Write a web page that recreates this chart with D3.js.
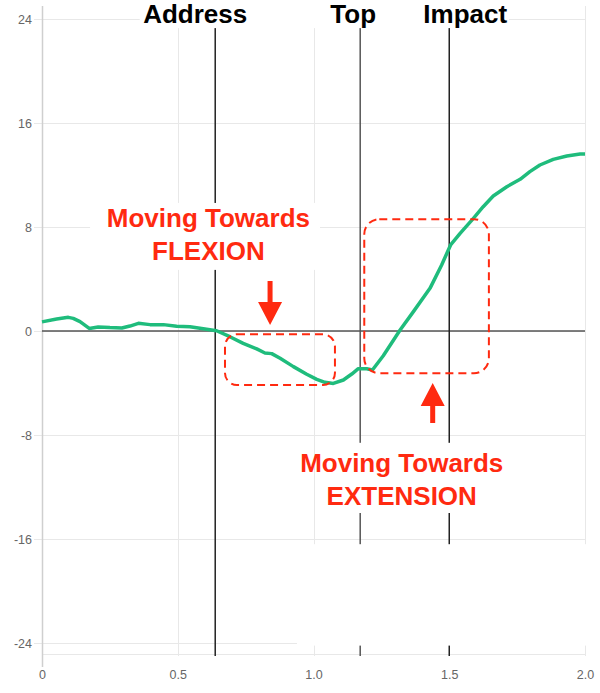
<!DOCTYPE html>
<html>
<head>
<meta charset="utf-8">
<script src="https://cdn.jsdelivr.net/npm/d3@7"></script>
<style>
  body { margin: 0; background: #fff; }
  svg { display: block; font-family: "Liberation Sans", Arial, Helvetica, sans-serif; }
</style>
</head>
<body>
<div id="chart"></div>
<script>
//time (seconds) of each sample
var times = [0, 0.054, 0.097, 0.115, 0.14, 0.174, 0.207, 0.25, 0.294, 0.324, 0.355, 0.398,
  0.447, 0.496, 0.545, 0.594, 0.643, 0.692, 0.741, 0.791, 0.821, 0.846, 0.877, 0.926,
  0.975, 1.012, 1.042, 1.073, 1.11, 1.141, 1.165, 1.196, 1.217, 1.257, 1.319, 1.368,
  1.429, 1.472, 1.505, 1.54, 1.589, 1.625, 1.662, 1.712, 1.761, 1.797, 1.834, 1.883,
  1.933, 1.982, 2.0];

//wrist angle (degrees) of each sample
var angles = [0.7, 0.92, 1.05, 0.97, 0.72, 0.2, 0.31, 0.26, 0.23, 0.38, 0.59, 0.49,
  0.49, 0.36, 0.33, 0.18, 0.02, -0.44, -0.95, -1.38, -1.69, -1.74, -2.1, -2.74,
  -3.33, -3.72, -3.95, -4.03, -3.77, -3.31, -2.9, -2.9, -3.0, -1.9, 0.08, 1.49,
  3.28, 5.08, 6.62, 7.51, 8.67, 9.56, 10.38, 11.1, 11.67, 12.26, 12.77, 13.2,
  13.46, 13.62, 13.62];

//swing events
var eventNames = ["Address", "Top", "Impact"];
var eventTimes = [0.638, 1.172, 1.5];

//tick labels
var xTicks = [0, 0.5, 1.0, 1.5, 2.0];
var xTickLabels = ["0", "0.5", "1.0", "1.5", "2.0"];
var yTicks = [-24, -16, -8, 0, 8, 16, 24];
var yTickLabels = ["-24", "-16", "-8", "0", "8", "16", "24"];

//annotation texts
var flexionText = ["Moving Towards", "FLEXION"];
var extensionText = ["Moving Towards", "EXTENSION"];

function init() {
  var w = 600;
  var h = 693;
  var left = 42;
  var right = 585;
  var top = 6;
  var bottom = 656;
  var red = "#ff2a10";

  var svg = d3
    .select("#chart")
    .append("svg")
    .attr("width", w)
    .attr("height", h);

  var xScale = d3.scaleLinear().domain([0, 2]).range([left, right]);
  var yScale = d3.scaleLinear().domain([-25, 25]).range([bottom, top]);

  //horizontal grid lines
  svg
    .append("g")
    .selectAll("line")
    .data(yTicks)
    .enter()
    .append("line")
    .attr("x1", left - 8)
    .attr("x2", right)
    .attr("y1", function (d) { return yScale(d) + 0.5; })
    .attr("y2", function (d) { return yScale(d) + 0.5; })
    .style("stroke", "#e8e8e8")
    .style("stroke-width", 1);

  //bottom border
  svg
    .append("line")
    .attr("x1", left)
    .attr("x2", right)
    .attr("y1", bottom - 1.5)
    .attr("y2", bottom - 1.5)
    .style("stroke", "#e8e8e8");

  //vertical grid lines
  svg
    .append("g")
    .selectAll("line")
    .data(xTicks.slice(1))
    .enter()
    .append("line")
    .attr("x1", function (d) { return Math.round(xScale(d)) + 0.5; })
    .attr("x2", function (d) { return Math.round(xScale(d)) + 0.5; })
    .attr("y1", top)
    .attr("y2", bottom)
    .style("stroke", "#e8e8e8");

  //left axis line
  svg
    .append("line")
    .attr("x1", left + 0.5)
    .attr("x2", left + 0.5)
    .attr("y1", top)
    .attr("y2", bottom + 11)
    .style("stroke", "#cfcfcf")
    .style("stroke-width", 1.5);

  //zero line
  svg
    .append("line")
    .attr("x1", left)
    .attr("x2", right)
    .attr("y1", yScale(0))
    .attr("y2", yScale(0))
    .style("stroke", "#555")
    .style("stroke-width", 1.5);

  //swing event lines
  svg
    .append("g")
    .selectAll("line")
    .data(eventTimes)
    .enter()
    .append("line")
    .attr("x1", function (d) { return xScale(d); })
    .attr("x2", function (d) { return xScale(d); })
    .attr("y1", 28)
    .attr("y2", bottom)
    .style("stroke", function (d, i) { return i == 1 ? "#555" : "#222"; })
    .style("stroke-width", 1.5);

  //white patches over the grid (behind labels)
  var masks = [
    [0.36, 1.72, 25.5, 23.3],
    [0.177, 1.024, 9.85, 4.7],
    [1.042, 1.687, -8.6, -14.0],
    [0.939, 2.1, -16.4, -24.2]
  ];
  svg
    .append("g")
    .selectAll("rect")
    .data(masks)
    .enter()
    .append("rect")
    .attr("x", function (d) { return xScale(d[0]); })
    .attr("y", function (d) { return yScale(d[2]); })
    .attr("width", function (d) { return xScale(d[1]) - xScale(d[0]); })
    .attr("height", function (d) { return yScale(d[3]) - yScale(d[2]); })
    .style("fill", "#fff");

  //y axis labels
  var yAxis = d3
    .axisLeft(yScale)
    .tickValues(yTicks)
    .tickSize(0)
    .tickPadding(10)
    .tickFormat(function (d, i) { return yTickLabels[i]; });
  svg
    .append("g")
    .attr("transform", "translate(" + left + ",0)")
    .call(yAxis)
    .call(function (g) { g.select(".domain").remove(); })
    .selectAll("text")
    .style("font-size", "12.5px")
    .style("font-family", "Liberation Sans, Arial, sans-serif")
    .style("fill", "#666");

  //x axis labels
  var xAxis = d3
    .axisBottom(xScale)
    .tickValues(xTicks)
    .tickSize(0)
    .tickPadding(14)
    .tickFormat(function (d, i) { return xTickLabels[i]; });
  svg
    .append("g")
    .attr("transform", "translate(0," + bottom + ")")
    .call(xAxis)
    .call(function (g) { g.select(".domain").remove(); })
    .selectAll("text")
    .style("font-size", "12.5px")
    .style("font-family", "Liberation Sans, Arial, sans-serif")
    .style("fill", "#666");

  //swing event labels
  var labelOffsets = [-20, -7, 16];
  svg
    .append("g")
    .selectAll("text")
    .data(eventNames)
    .enter()
    .append("text")
    .attr("x", function (d, i) { return xScale(eventTimes[i]) + labelOffsets[i]; })
    .attr("y", 23)
    .attr("text-anchor", "middle")
    .style("font-size", "26px")
    .style("font-weight", "bold")
    .style("fill", "#000")
    .text(function (d) { return d; });

  //wrist angle line
  var line = d3
    .line()
    .x(function (d, i) { return xScale(times[i]); })
    .y(function (d) { return yScale(d); });
  svg
    .append("path")
    .datum(angles)
    .attr("d", line)
    .style("fill", "none")
    .style("stroke", "#1fbc7c")
    .style("stroke-width", 3.5)
    .style("stroke-linejoin", "round");

  //dashed boxes around the two phases
  var boxes = [
    [0.674, 1.079, -0.25, -4.15, 12],
    [1.187, 1.646, 8.6, -3.25, 15]
  ];
  svg
    .append("g")
    .selectAll("rect")
    .data(boxes)
    .enter()
    .append("rect")
    .attr("x", function (d) { return xScale(d[0]); })
    .attr("y", function (d) { return yScale(d[2]); })
    .attr("width", function (d) { return xScale(d[1]) - xScale(d[0]); })
    .attr("height", function (d) { return yScale(d[3]) - yScale(d[2]); })
    .attr("rx", function (d) { return d[4]; })
    .style("fill", "none")
    .style("stroke", red)
    .style("stroke-width", 2)
    .style("stroke-dasharray", "8,5");

  //arrows: [x, shaft end, head base, tip]
  var arrows = [
    [0.84, 3.85, 2.23, 0.46],
    [1.439, -7.08, -5.77, -4.0]
  ];
  svg
    .append("g")
    .selectAll("path")
    .data(arrows)
    .enter()
    .append("path")
    .attr("d", function (d) {
      var cx = xScale(d[0]);
      var s = yScale(d[1]);
      var b = yScale(d[2]);
      var t = yScale(d[3]);
      return "M" + (cx - 2.5) + "," + s + "L" + (cx + 2.5) + "," + s +
        "L" + (cx + 2.5) + "," + b + "L" + (cx + 12) + "," + b +
        "L" + cx + "," + t + "L" + (cx - 12) + "," + b +
        "L" + (cx - 2.5) + "," + b + "Z";
    })
    .style("fill", red);

  //annotation texts
  function addNote(lines, x, y1, y2) {
    svg
      .append("g")
      .selectAll("text")
      .data(lines)
      .enter()
      .append("text")
      .attr("x", xScale(x))
      .attr("y", function (d, i) { return yScale(i == 0 ? y1 : y2); })
      .attr("text-anchor", "middle")
      .style("font-size", "26px")
      .style("font-weight", "bold")
      .style("fill", red)
      .text(function (d) { return d; });
  }
  addNote(flexionText, 0.613, 8.02, 5.46);
  addNote(extensionText, 1.325, -10.82, -13.38);
}

window.onload = init;
</script>
</body>
</html>
